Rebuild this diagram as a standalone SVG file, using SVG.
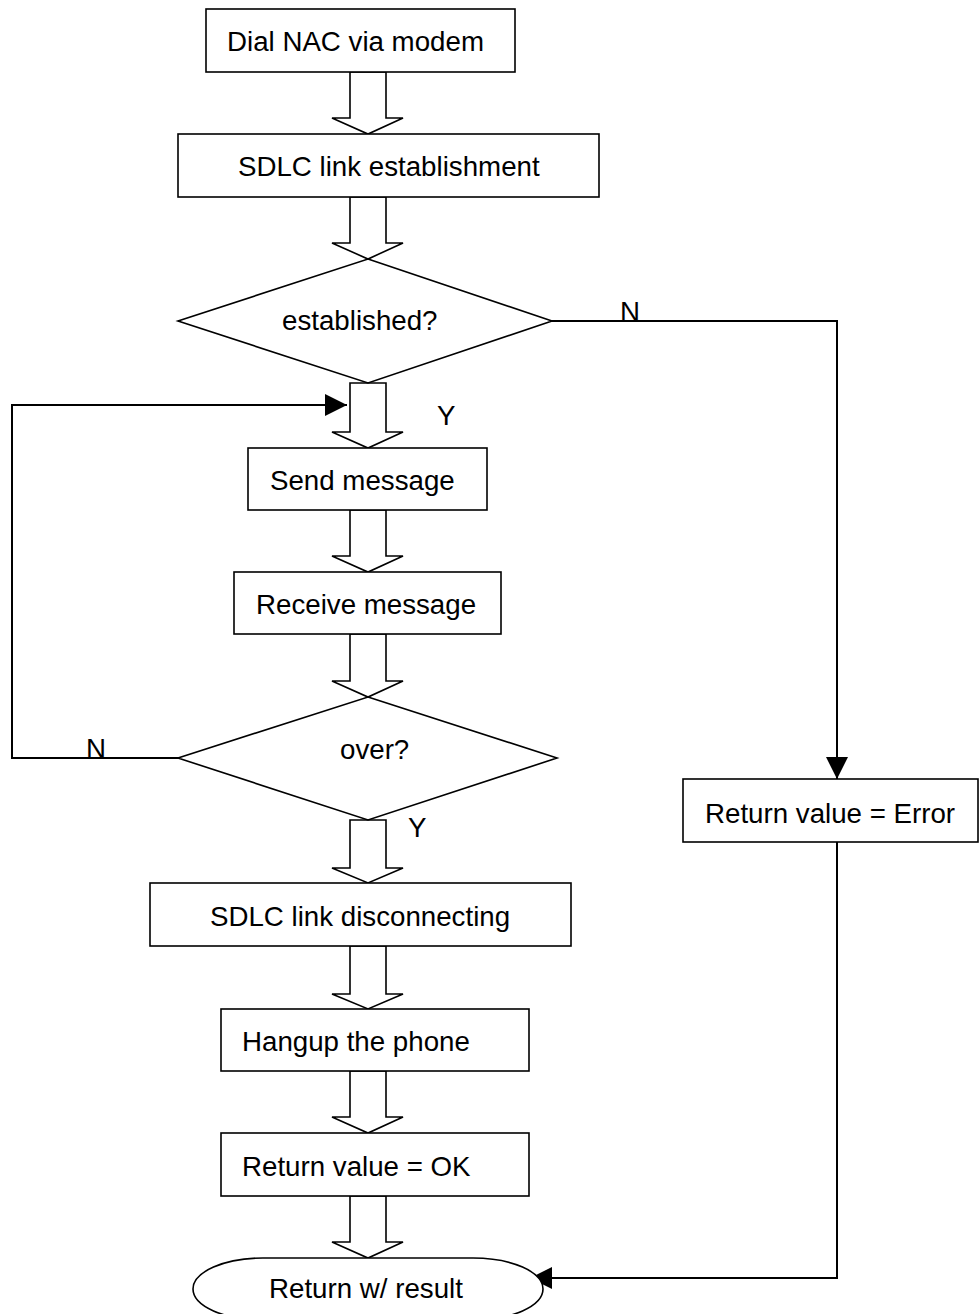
<svg xmlns="http://www.w3.org/2000/svg" width="979" height="1314" viewBox="0 0 979 1314">
<defs>
<style>
.box{fill:#fff;stroke:#000;stroke-width:1.6}
.blk{fill:none;stroke:#000;stroke-width:1.6;stroke-linejoin:miter}
.con{fill:none;stroke:#000;stroke-width:2}
text{font-family:"Liberation Sans",Arial,sans-serif;font-size:27.7px;fill:#000}
</style>
<marker id="ah" markerUnits="userSpaceOnUse" markerWidth="22" markerHeight="22" viewBox="0 0 20 20" refX="20" refY="10" orient="auto">
<path d="M0,0 L20,10 L0,20 Z" fill="#000"/>
</marker>
</defs>
<rect width="979" height="1314" fill="#fff"/>
<g id="connectors">
<polyline class="con" points="552,321 837,321 837,779" marker-end="url(#ah)"/>
<polyline class="con" points="837,842 837,1278 530,1278" marker-end="url(#ah)"/>
<polyline class="con" points="178,758 12,758 12,405 347,405" marker-end="url(#ah)"/>
<polygon class="blk" points="350,72 386,72 386,118 403,118 368,134 332,118 350,118"/>
<polygon class="blk" points="350,197 386,197 386,243 403,243 368,259 332,243 350,243"/>
<polygon class="blk" points="350,383 386,383 386,432 403,432 368,448 332,432 350,432"/>
<polygon class="blk" points="350,510 386,510 386,556 403,556 368,572 332,556 350,556"/>
<polygon class="blk" points="350,634 386,634 386,681 403,681 368,697 332,681 350,681"/>
<polygon class="blk" points="350,820 386,820 386,868 403,868 368,883 332,868 350,868"/>
<polygon class="blk" points="350,946 386,946 386,994 403,994 368,1009 332,994 350,994"/>
<polygon class="blk" points="350,1071 386,1071 386,1117 403,1117 368,1133 332,1117 350,1117"/>
<polygon class="blk" points="350,1196 386,1196 386,1242 403,1242 368,1258 332,1242 350,1242"/>
<text x="620" y="321">N</text>
<text x="437" y="425">Y</text>
<text x="86" y="758">N</text>
<text x="408" y="837">Y</text>
</g>
<g id="n1"><rect class="box" x="206" y="9" width="309" height="63"/><text x="227" y="51">Dial NAC via modem</text></g>
<g id="n2"><rect class="box" x="178" y="134" width="421" height="63"/><text x="238" y="176">SDLC link establishment</text></g>
<g id="n3"><polygon class="blk" points="368,259 552,321 368,383 178,321"/><text x="282" y="330">established?</text></g>
<g id="n4"><rect class="box" x="248" y="448" width="239" height="62"/><text x="270" y="490">Send message</text></g>
<g id="n5"><rect class="box" x="234" y="572" width="267" height="62"/><text x="256" y="614">Receive message</text></g>
<g id="n6"><polygon class="blk" points="368,697 557,758 368,820 178,758"/><text x="340" y="759">over?</text></g>
<g id="n7"><rect class="box" x="150" y="883" width="421" height="63"/><text x="210" y="926">SDLC link disconnecting</text></g>
<g id="n8"><rect class="box" x="221" y="1009" width="308" height="62"/><text x="242" y="1051">Hangup the phone</text></g>
<g id="n9"><rect class="box" x="221" y="1133" width="308" height="63"/><text x="242" y="1176">Return value = OK</text></g>
<g id="n10"><rect class="box" x="193" y="1258" width="350" height="62" rx="70" ry="31"/><text x="269" y="1298">Return w/ result</text></g>
<g id="n11"><rect class="box" x="683" y="779" width="295" height="63"/><text x="705" y="823">Return value = Error</text></g>
</svg>
